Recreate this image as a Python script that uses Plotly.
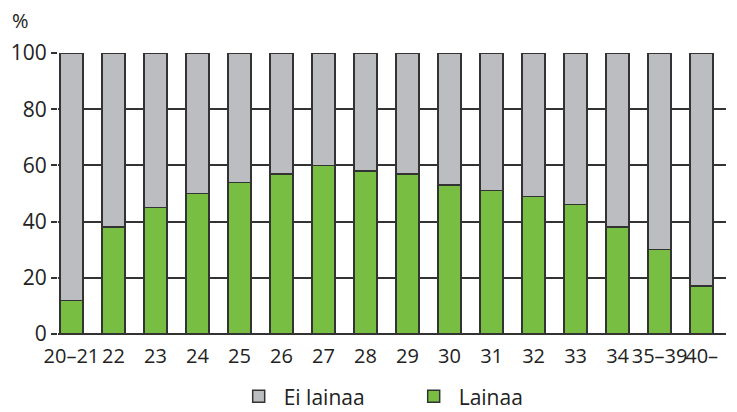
import plotly.graph_objects as go

categories = ["20–21", "22", "23", "24", "25", "26", "27", "28", "29", "30",
              "31", "32", "33", "34", "35–39", "40–"]
lainaa = [12, 38, 45, 50, 54, 57, 60, 58, 57, 53, 51, 49, 46, 38, 30, 17]
ei_lainaa = [100 - v for v in lainaa]
y_ticks = [0, 20, 40, 60, 80, 100]

FONT = "Open Sans"
DARK = "#333333"
x = list(range(len(categories)))

fig = go.Figure()
fig.add_trace(go.Bar(x=x, y=lainaa, name="Lainaa", marker=dict(color="#78be43", line=dict(color=DARK, width=1.5))))
fig.add_trace(go.Bar(x=x, y=ei_lainaa, name="Ei lainaa", marker=dict(color="#bcbdc0", line=dict(color=DARK, width=1.5))))

# page body has an 8px margin, so the figure is sized/offset to compensate
fig.update_layout(
    barmode="stack",
    bargap=0.45,
    width=729, height=404,
    margin=dict(l=50, r=11, t=45, b=78, autoexpand=False),
    plot_bgcolor="white", paper_bgcolor="white",
    font=dict(family=FONT, size=20, color="#222222"),
    showlegend=True,
    legend=dict(orientation="h", x=0.263, xanchor="left", y=-0.15, yanchor="top",
                traceorder="reversed", font=dict(size=21), itemwidth=40,
                entrywidth=120, entrywidthmode="pixels"),
    xaxis=dict(tickmode="array", tickvals=x, ticktext=categories,
               range=[-0.32, 15.58], showgrid=False, zeroline=False,
               showline=False, ticks="", tickangle=0, ticklabelstandoff=8,
               tickfont=dict(size=20)),
    yaxis=dict(range=[0, 100], tickvals=y_ticks, showgrid=True, gridcolor=DARK,
               gridwidth=1.5, zeroline=True, zerolinecolor=DARK, zerolinewidth=1.5,
               ticks="outside", ticklen=6, tickcolor=DARK, tickwidth=1.5,
               showline=False, tickfont=dict(size=21)),
)
fig.add_annotation(text="%", x=-0.072, y=1.06, xref="paper", yref="paper",
                   xanchor="left", yanchor="bottom", showarrow=False,
                   font=dict(size=20))
fig.write_html("out.html")
